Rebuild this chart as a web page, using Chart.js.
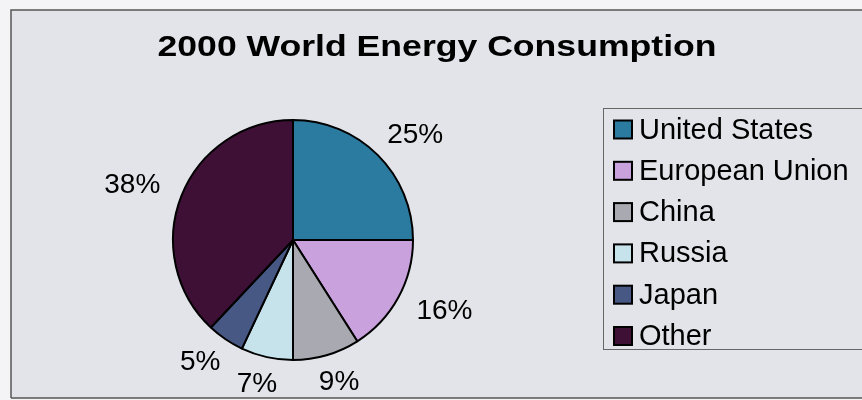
<!DOCTYPE html>
<html>
<head>
<meta charset="utf-8">
<script src="https://cdn.jsdelivr.net/npm/chart.js@4"></script>
<style>
  html, body { margin: 0; padding: 0; background: #f4f4f6; }
  #wrap { position: relative; width: 862px; height: 400px; }
</style>
</head>
<body>
<div id="wrap"><canvas id="chart" width="862" height="400"></canvas></div>
<script>
var titleText = '2000 World Energy Consumption';
var regions = ['United States', 'European Union', 'China', 'Russia', 'Japan', 'Other'];
var shares = [25, 16, 9, 7, 5, 38];
var sliceColors = ['#2b7ba0', '#c9a1dc', '#a9aab1', '#c6e3ec', '#485884', '#3e1036'];

// paint the frame + paper background behind everything
var paperPlugin = {
  id: 'paper',
  beforeDraw: function(chart) {
    var ctx = chart.ctx;
    ctx.save();
    ctx.fillStyle = '#f4f4f6';
    ctx.fillRect(0, 0, chart.width, chart.height);
    ctx.fillStyle = '#e3e4ea';
    ctx.fillRect(11, 10, chart.width - 11, chart.height - 12);
    ctx.strokeStyle = '#555';
    ctx.lineWidth = 1.5;
    ctx.beginPath();
    ctx.moveTo(11, chart.height - 2);
    ctx.lineTo(11, 10);
    ctx.lineTo(chart.width, 10);
    ctx.moveTo(11, chart.height - 2);
    ctx.lineTo(chart.width, chart.height - 2);
    ctx.stroke();
    ctx.restore();
  }
};

var labelPlugin = {
  id: 'extras',
  afterDraw: function(chart) {
    var ctx = chart.ctx;
    ctx.save();

    // title (the scan is a bit wide, so stretch it horizontally)
    ctx.fillStyle = '#000';
    ctx.font = 'bold 30px "Liberation Sans", Arial, sans-serif';
    ctx.textAlign = 'center';
    ctx.textBaseline = 'alphabetic';
    var tw = ctx.measureText(titleText).width;
    ctx.save();
    ctx.translate(437, 56);
    ctx.scale(559 / tw, 1);
    ctx.fillText(titleText, 0, 0);
    ctx.restore();

    // percent labels: box sits just outside the (slightly oval) pie edge
    var meta = chart.getDatasetMeta(0);
    ctx.font = '28px "Liberation Sans", Arial, sans-serif';
    ctx.textBaseline = 'middle';
    var gap = 20, h = 22;
    meta.data.forEach(function(arc, i) {
      var txt = shares[i] + '%';
      var w = ctx.measureText(txt).width;
      var mid = (arc.startAngle + arc.endAngle) / 2;
      var c = Math.cos(mid), s = Math.sin(mid);
      var x = arc.x + c * (arc.outerRadius * 1.04 + gap) + c * w / 2;
      var y = arc.y + s * (arc.outerRadius * 0.975 + gap) + s * h / 2;
      ctx.fillText(txt, x, y);
    });

    // legend box
    var lx = 603, ly = 108, lw = 262, lh = 241;
    ctx.strokeStyle = '#666';
    ctx.lineWidth = 1;
    ctx.strokeRect(lx + 0.5, ly + 0.5, lw, lh);
    ctx.font = '29px "Liberation Sans", Arial, sans-serif';
    ctx.textAlign = 'left';
    regions.forEach(function(name, i) {
      var cy = 129.5 + i * 41.3;
      ctx.fillStyle = sliceColors[i];
      ctx.fillRect(614, cy - 9, 18, 18);
      ctx.strokeStyle = '#000';
      ctx.lineWidth = 2;
      ctx.strokeRect(614, cy - 9, 18, 18);
      ctx.fillStyle = '#000';
      ctx.fillText(name, 639, cy + 1);
    });
    ctx.restore();
  }
};

new Chart(document.getElementById('chart'), {
  type: 'pie',
  data: {
    labels: regions,
    datasets: [{
      data: shares,
      backgroundColor: sliceColors,
      borderColor: '#000',
      borderWidth: 2
    }]
  },
  options: {
    responsive: false,
    animation: false,
    layout: { padding: { left: 170, right: 446, top: 119, bottom: 39 } },
    plugins: {
      legend: { display: false },
      title: { display: false },
      tooltip: { enabled: false }
    }
  },
  plugins: [paperPlugin, labelPlugin]
});
</script>
</body>
</html>
